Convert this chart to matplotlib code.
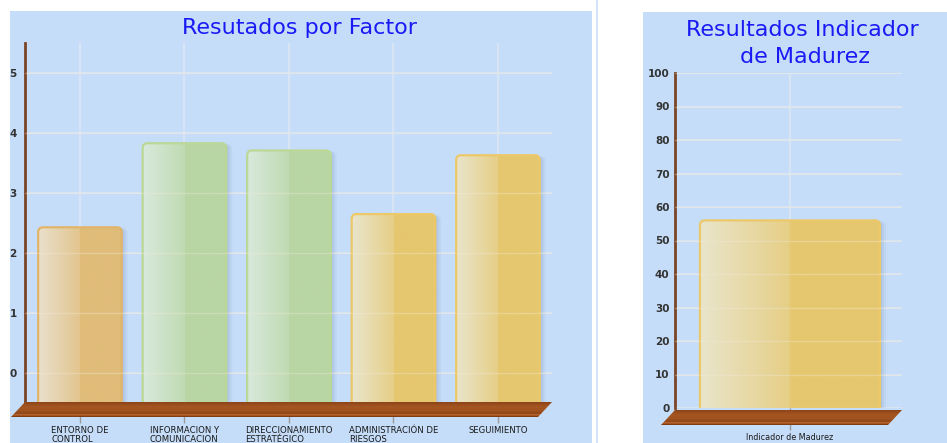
import numpy as np
import matplotlib
matplotlib.use("Agg")
import matplotlib.pyplot as plt
from matplotlib.patches import FancyBboxPatch, Polygon, Rectangle

# datos
factores = ["ENTORNO DE\nCONTROL", "INFORMACION Y\nCOMUNICACION", "DIRECCIONAMIENTO\nESTRATÉGICO",
            "ADMINISTRACIÓN DE\nRIESGOS", "SEGUIMIENTO"]
puntajes = [2.43, 3.83, 3.71, 2.65, 3.63]
ticks_factor = [0, 1, 2, 3, 4, 5]

indicador_label = ["Indicador de Madurez"]
indicador = [56]
ticks_indicador = [0, 10, 20, 30, 40, 50, 60, 70, 80, 90, 100]

# colores (claro, base, borde)
naranja = ((233, 224, 204), (224, 188, 121), (226, 180, 105))
verde = ((216, 233, 220), (184, 214, 164), (186, 216, 150))
amarillo = ((233, 229, 203), (229, 199, 111), (236, 200, 105))
colores_factor = [naranja, verde, verde, amarillo, amarillo]

W, H = 947, 443
fondo = "#c5ddf8"
rejilla = "#dde6f2"
eje = "#7a4526"

plt.rcParams["font.family"] = ["DejaVu Sans"]
fig = plt.figure(figsize=(W / 100, H / 100), dpi=100)


def rect_px(l, t, r, b):
    return [l / W, 1 - b / H, (r - l) / W, (b - t) / H]


def c(rgb):
    return np.array(rgb) / 255.0


# paneles de fondo
for l, t, r in [(10, 11, 592), (643, 12, 947)]:
    fig.add_artist(Rectangle((l / W, 0), (r - l) / W, 1 - t / H, transform=fig.transFigure,
                             facecolor=fondo, edgecolor="none", zorder=-2))
fig.add_artist(Rectangle((595.5 / W, 0), 2 / W, 1, transform=fig.transFigure,
                         facecolor="#d2e4fa", edgecolor="none", zorder=-2))


def barra(ax, x, val, ymin, ancho, cols, pxx, pxy):
    claro, base, borde = cols
    r = 5.0 / pxx
    asp = pxx / pxy
    x0 = x - ancho / 2
    bot = ymin - 10 / pxy
    style = "round,pad=0,rounding_size=%f" % r
    # sombra
    for k, a in [(6, 0.12), (4, 0.18), (2, 0.25)]:
        sh = FancyBboxPatch((x0 + k / pxx, bot), ancho, val - bot - 1 / pxy, boxstyle=style,
                            mutation_aspect=asp, fc="#8fa9c8", ec="none", alpha=a, zorder=2.5)
        ax.add_patch(sh)
    cuerpo = FancyBboxPatch((x0, bot), ancho, val - bot, boxstyle=style, mutation_aspect=asp,
                            fc="none", ec=c(borde), lw=1.6, zorder=3.1)
    ax.add_patch(cuerpo)
    n = 80
    t = np.linspace(0, 1, n)
    medio = c(claro) * 0.25 + c(base) * 0.75
    img = np.zeros((1, n, 3))
    for i, ti in enumerate(t):
        if ti < 0.5:
            f = ti / 0.5
            img[0, i] = c(claro) * (1 - f) + medio * f
        else:
            img[0, i] = c(base)
    im = ax.imshow(img, extent=[x0, x0 + ancho, bot, val], aspect="auto", zorder=3,
                   interpolation="bilinear")
    im.set_clip_path(cuerpo)


def piso(ov, l, r, top, prof=14, alto=15):
    pts = [(l, top), (r, top), (r - prof, top + alto), (l - prof, top + alto)]
    poly = Polygon(pts, closed=True, fc="none", ec="none")
    ov.add_patch(poly)
    stops = [0, 0.3, 0.6, 0.78, 0.86, 0.93, 1]
    cols = [(140, 68, 24), (165, 86, 34), (160, 82, 31), (140, 67, 22), (196, 112, 52),
            (150, 72, 26), (118, 54, 18)]
    rows = 40
    g = np.zeros((rows, 1, 3))
    for i in range(rows):
        f = i / (rows - 1)
        g[i, 0] = [np.interp(f, stops, [cc[k] for cc in cols]) / 255 for k in range(3)]
    im = ov.imshow(g, extent=[l - prof, r, top + alto, top], aspect="auto", interpolation="bilinear")
    im.set_clip_path(poly)


def estilo(ax, ticks, pad_y, tick_len):
    ax.set_facecolor("none")
    for s in ["top", "right", "bottom"]:
        ax.spines[s].set_visible(False)
    ax.spines["left"].set_color(eje)
    ax.spines["left"].set_linewidth(2.0)
    ax.set_yticks(ticks)
    ax.set_yticklabels([str(v) for v in ticks], fontsize=7.5, fontweight="bold", color="#333333")
    ax.tick_params(axis="y", length=0, pad=pad_y)
    ax.tick_params(axis="x", length=tick_len, width=1, color="#9a9a9a", pad=2)
    ax.grid(True, color=rejilla, lw=1.2)
    ax.set_axisbelow(True)


# --- grafico por factor ---
ax1 = fig.add_axes(rect_px(25, 43, 552, 402))
x1 = np.arange(len(factores))
ymin1, ymax1 = -0.48, 5.5
pxx1 = 527 / (4.517 + 0.526)
pxy1 = 359 / (ymax1 - ymin1)
for xi, v, cols in zip(x1, puntajes, colores_factor):
    barra(ax1, xi, v, ymin1, 0.8, cols, pxx1, pxy1)
for tk in ticks_factor:
    ax1.axhline(tk, color="#f4ead8", lw=1.0, alpha=0.35, zorder=4)
ax1.set_xticks(x1)
ax1.set_xticklabels(factores, fontsize=6.1, color="#1a1a1a", multialignment="left", linespacing=1.05)
estilo(ax1, ticks_factor, 6, 15)
ax1.set_xlim(-0.526, 4.517)
ax1.set_ylim(ymin1, ymax1)

# --- indicador de madurez ---
ax2 = fig.add_axes(rect_px(675, 73, 902, 408))
x2 = np.arange(len(indicador))
ymin2, ymax2 = 0, 100
pxx2 = 227 / 1.009
pxy2 = 335 / (ymax2 - ymin2)
for xi, v in zip(x2, indicador):
    barra(ax2, xi, v, ymin2, 0.8, amarillo, pxx2, pxy2)
for tk in ticks_indicador:
    ax2.axhline(tk, color="#f4ead8", lw=1.0, alpha=0.35, zorder=4)
ax2.set_xticks(x2)
ax2.set_xticklabels(indicador_label, fontsize=5.8, color="#1a1a1a")
estilo(ax2, ticks_indicador, 4, 16)
ax2.set_xlim(-0.511, 0.498)
ax2.set_ylim(ymin2, ymax2)

# pisos 3D sobre los ejes
ov = fig.add_axes([0, 0, 1, 1], zorder=1)
ov.axis("off")
ov.set_facecolor("none")
piso(ov, 25, 552, 402)
piso(ov, 675, 902, 410)
ov.set_xlim(0, W)
ov.set_ylim(H, 0)

fig.text(300 / W, 1 - 28 / H, "Resutados por Factor", fontsize=16, color="#1a1af5",
         ha="center", va="center")
fig.text(802 / W, 1 - 30 / H, "Resultados Indicador", fontsize=16, color="#1a1af5",
         ha="center", va="center")
fig.text(805 / W, 1 - 57 / H, "de Madurez", fontsize=16, color="#1a1af5",
         ha="center", va="center")

fig.savefig("out.png", dpi=100)
